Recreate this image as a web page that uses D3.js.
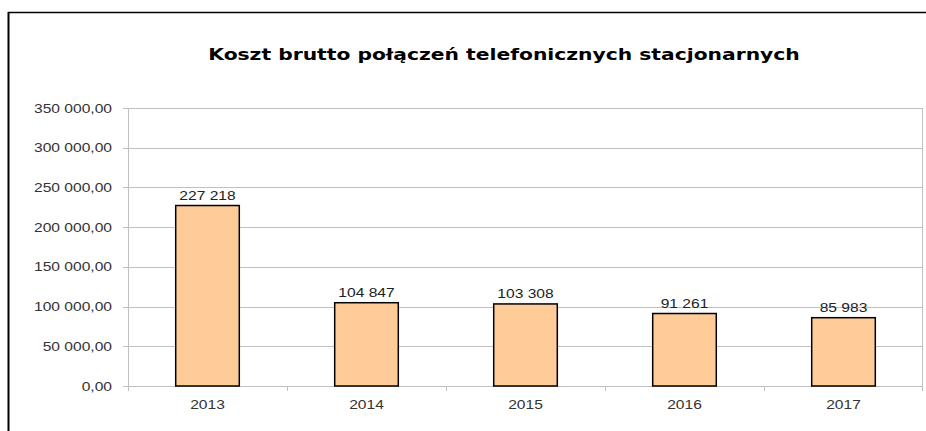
<!DOCTYPE html>
<html>
<head>
<meta charset="utf-8">
<script src="https://cdn.jsdelivr.net/npm/d3@7"></script>
<style>
  body { margin: 0; background: #fff; }
  svg { display: block; }
</style>
</head>
<body>
<div id="chart-area"></div>
<script>
// dane z wykresu
const years = ["2013", "2014", "2015", "2016", "2017"];
const costs = [227218, 104847, 103308, 91261, 85983];
const yTicks = [0, 50000, 100000, 150000, 200000, 250000, 300000, 350000];
const title = "Koszt brutto połączeń telefonicznych stacjonarnych";

const width = 926, height = 431;
const plot = { left: 128, right: 923, top: 108, bottom: 386 };
const sx = 1.3; // obrazek jest rozciągnięty w poziomie

let svg = d3.select("#chart-area").append("svg")
    .attr("width", width)
    .attr("height", height);

// ramka wykresu (tylko góra i lewa strona widoczne)
svg.append("line")
    .attr("x1", 8).attr("x2", width).attr("y1", 12.5).attr("y2", 12.5)
    .attr("stroke", "#000").attr("stroke-width", 1.5);
svg.append("line")
    .attr("x1", 8.5).attr("x2", 8.5).attr("y1", 12).attr("y2", height)
    .attr("stroke", "#000").attr("stroke-width", 2);

const x = d3.scaleBand()
    .domain(years)
    .range([plot.left, plot.right])
    .padding(0);

const y = d3.scaleLinear()
    .domain([0, 350000])
    .range([plot.bottom, plot.top]);

const fmtAxis = function (v) {
    let s = d3.format(",.2f")(v);
    return s.replace(/,/g, " ").replace(".", ",");
};
const fmtVal = function (v) {
    return d3.format(",")(v).replace(/,/g, " ");
};

// tytuł
svg.append("text")
    .attr("transform", "translate(504,60) scale(1.3,1)")
    .attr("text-anchor", "middle")
    .style("font-family", "'DejaVu Sans', Verdana, sans-serif")
    .style("font-weight", "bold")
    .style("font-size", "15.6px")
    .attr("fill", "#000")
    .text(title);

// linie siatki
svg.append("g").selectAll("line")
    .data(yTicks)
    .enter()
    .append("line")
    .attr("x1", plot.left - 5)
    .attr("x2", plot.right)
    .attr("y1", d => Math.round(y(d)) + 0.5)
    .attr("y2", d => Math.round(y(d)) + 0.5)
    .attr("stroke", "#c0c0c0")
    .attr("stroke-width", 1);

// osie pionowe obszaru wykresu
svg.append("line")
    .attr("x1", plot.left + 0.5).attr("x2", plot.left + 0.5)
    .attr("y1", plot.top).attr("y2", plot.bottom + 5)
    .attr("stroke", "#c0c0c0");
svg.append("line")
    .attr("x1", plot.right - 0.5).attr("x2", plot.right - 0.5)
    .attr("y1", plot.top).attr("y2", plot.bottom + 5)
    .attr("stroke", "#c0c0c0");

// znaczniki osi X
svg.append("g").selectAll("line")
    .data(years.slice(1))
    .enter()
    .append("line")
    .attr("x1", d => Math.round(x(d)) + 0.5)
    .attr("x2", d => Math.round(x(d)) + 0.5)
    .attr("y1", plot.bottom)
    .attr("y2", plot.bottom + 5)
    .attr("stroke", "#c0c0c0");

// etykiety osi Y
svg.append("g").selectAll("text")
    .data(yTicks)
    .enter()
    .append("text")
    .attr("transform", d => "translate(112," + (y(d) + 4.5) + ") scale(" + sx + ",1)")
    .attr("text-anchor", "end")
    .style("font-family", "'Liberation Sans', Arial, sans-serif")
    .style("font-size", "12px")
    .attr("fill", "#333")
    .text(fmtAxis);

// etykiety osi X
svg.append("g").selectAll("text")
    .data(years)
    .enter()
    .append("text")
    .attr("transform", d => "translate(" + (x(d) + x.bandwidth() / 2) + ",409) scale(" + sx + ",1)")
    .attr("text-anchor", "middle")
    .style("font-family", "'Liberation Sans', Arial, sans-serif")
    .style("font-size", "12px")
    .attr("fill", "#333")
    .text(d => d);

// słupki
const barW = x.bandwidth() * 0.4;
svg.append("g").selectAll("rect")
    .data(costs)
    .enter()
    .append("rect")
    .attr("x", (d, i) => x(years[i]) + (x.bandwidth() - barW) / 2)
    .attr("y", d => y(d))
    .attr("width", barW)
    .attr("height", d => plot.bottom - y(d))
    .attr("fill", "#ffcc99")
    .attr("stroke", "#000")
    .attr("stroke-width", 1.5);

// etykiety wartości
svg.append("g").selectAll("text")
    .data(costs)
    .enter()
    .append("text")
    .attr("transform", (d, i) => "translate(" + (x(years[i]) + x.bandwidth() / 2) + "," + (y(d) - 6) + ") scale(" + sx + ",1)")
    .attr("text-anchor", "middle")
    .style("font-family", "'Liberation Sans', Arial, sans-serif")
    .style("font-size", "12px")
    .attr("fill", "#222")
    .text(fmtVal);
</script>
</body>
</html>
